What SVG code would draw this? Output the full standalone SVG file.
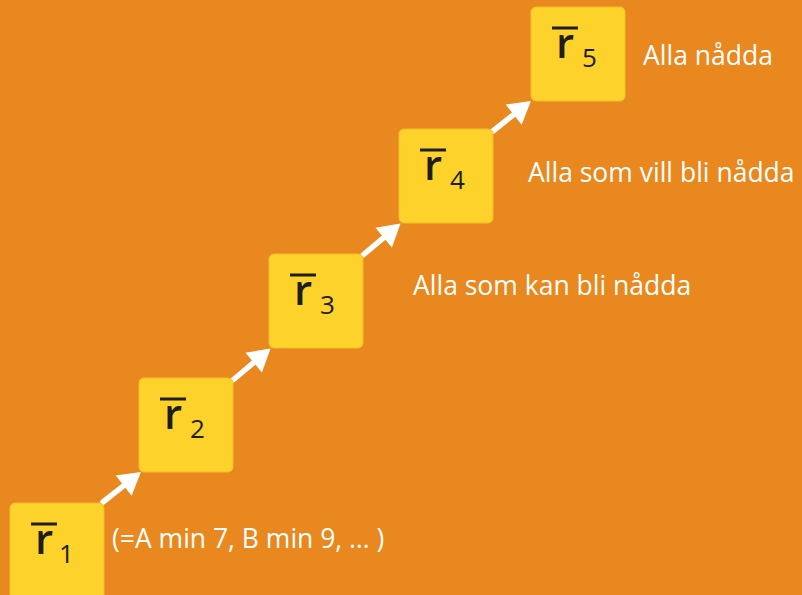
<svg xmlns="http://www.w3.org/2000/svg" width="802" height="595" viewBox="0 0 802 595">
<style>
.box{fill:#FDD22A;stroke:#F6BE2C;stroke-width:1}
.r{font-family:"Open Sans","DejaVu Sans",sans-serif;font-size:42px;font-weight:600;fill:#1E1E1E}
.sub{font-family:"Open Sans","DejaVu Sans",sans-serif;font-size:26px;fill:#1E1E1E}
.bar{stroke:#1E1E1E;stroke-width:3}
.lbl{font-family:"Open Sans","DejaVu Sans",sans-serif;font-size:26.5px;fill:#FFFFFF}
.arr{stroke:#FFFFFF;stroke-width:5.5;stroke-linecap:round;fill:none;marker-end:url(#head)}
</style>
<defs>
<marker id="head" markerUnits="userSpaceOnUse" viewBox="0 -14 24 28" markerWidth="24" markerHeight="28" refX="0" refY="0" orient="auto" overflow="visible">
<path d="M0,-12.8 L22,0 L0,12.8 z" fill="#FFFFFF"/>
</marker>
</defs>
<rect width="802" height="595" fill="#E8881E"/>
<g id="connectors">
<line class="arr" x1="103" y1="502" x2="123.7" y2="485.6"/>
<line class="arr" x1="233" y1="380" x2="253.7" y2="362.6"/>
<line class="arr" x1="363" y1="255" x2="383.7" y2="237.6"/>
<line class="arr" x1="493" y1="131" x2="513.7" y2="114.6"/>
</g>
<g id="n1" transform="translate(10,503)">
<rect class="box" x="0" y="0" width="94" height="100" rx="5"/>
<line class="bar" x1="21" y1="21" x2="47" y2="21"/>
<text class="r" x="25" y="50.5">r</text>
<text class="sub" x="49" y="59.5">1</text>
</g>
<g id="n2" transform="translate(139,378)">
<rect class="box" x="0" y="0" width="94" height="94" rx="5"/>
<line class="bar" x1="21" y1="21" x2="47" y2="21"/>
<text class="r" x="25" y="50.5">r</text>
<text class="sub" x="51" y="60">2</text>
</g>
<g id="n3" transform="translate(269,254)">
<rect class="box" x="0" y="0" width="94" height="94" rx="5"/>
<line class="bar" x1="21" y1="21" x2="47" y2="21"/>
<text class="r" x="25" y="50.5">r</text>
<text class="sub" x="51" y="60">3</text>
</g>
<g id="n4" transform="translate(399,129)">
<rect class="box" x="0" y="0" width="94" height="94" rx="5"/>
<line class="bar" x1="21" y1="21" x2="47" y2="21"/>
<text class="r" x="25" y="50.5">r</text>
<text class="sub" x="51" y="60">4</text>
</g>
<g id="n5" transform="translate(531,7)">
<rect class="box" x="0" y="0" width="94" height="94" rx="5"/>
<line class="bar" x1="21" y1="21" x2="47" y2="21"/>
<text class="r" x="25" y="50.5">r</text>
<text class="sub" x="51" y="60">5</text>
</g>
<g id="labels">
<text class="lbl" x="643" y="65">Alla nådda</text>
<text class="lbl" x="528" y="182">Alla som vill bli nådda</text>
<text class="lbl" x="413" y="295">Alla som kan bli nådda</text>
<text class="lbl" x="112" y="548">(=A min 7, B min 9, … )</text>
</g>
</svg>
